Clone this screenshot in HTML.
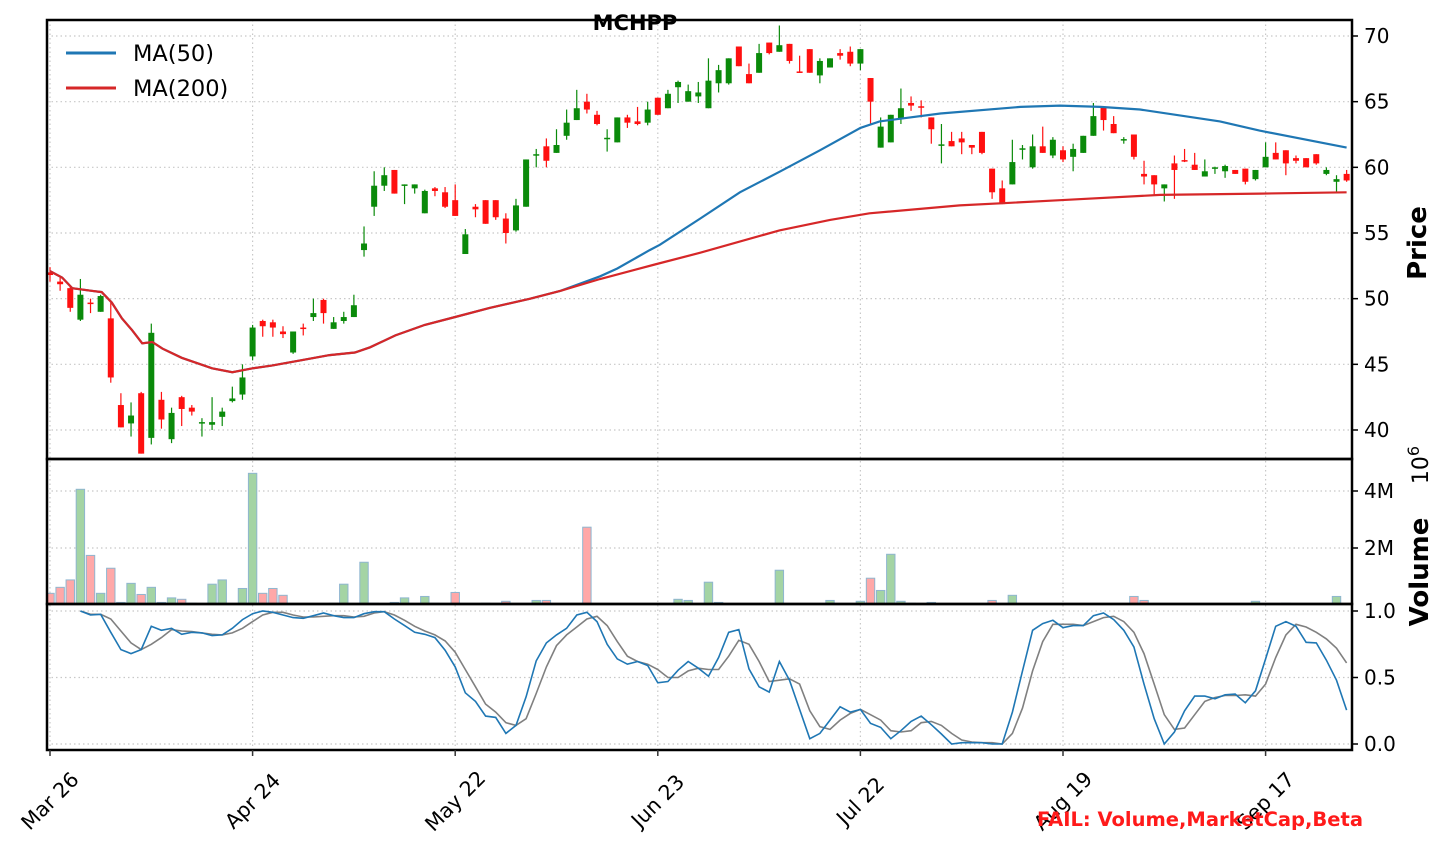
<!DOCTYPE html>
<html><head><meta charset="utf-8"><style>
html,body{margin:0;padding:0;background:#fff;}
svg{display:block;font-family:"DejaVu Sans","Liberation Sans",sans-serif;}
</style></head><body>
<svg id="chart" width="1451" height="855" viewBox="0 0 1451 855" xmlns="http://www.w3.org/2000/svg">
<defs>
<clipPath id="cp-price"><rect x="47" y="20" width="1305" height="439"/></clipPath>
<clipPath id="cp-vol"><rect x="47" y="459" width="1305" height="145"/></clipPath>
<clipPath id="cp-osc"><rect x="47" y="604" width="1305" height="146"/></clipPath>
</defs>
<g id="grid"></g>
<g id="vol" clip-path="url(#cp-vol)"></g>
<g id="candles" clip-path="url(#cp-price)"></g>
<g id="ma" clip-path="url(#cp-price)"></g>
<g id="osc" clip-path="url(#cp-osc)"></g>
<g id="axes"></g>
<text x="635" y="30" text-anchor="middle" font-size="21" font-weight="bold">MCHPP</text>
<g>
<line x1="66" y1="53" x2="116" y2="53" stroke="#1f77b4" stroke-width="3"/>
<text x="133" y="61" font-size="22.5">MA(50)</text>
<line x1="66" y1="88" x2="116" y2="88" stroke="#d62728" stroke-width="3"/>
<text x="133" y="96" font-size="22.5">MA(200)</text>
</g>
<text transform="translate(1426,243) rotate(-90)" text-anchor="middle" font-size="26" font-weight="bold">Price</text>
<text transform="translate(1428,572) rotate(-90)" text-anchor="middle" font-size="26" font-weight="bold">Volume</text>
<text transform="translate(1428,465) rotate(-90)" text-anchor="middle" font-size="22">10<tspan dy="-9" font-size="16">6</tspan></text>
<text x="1363" y="826" text-anchor="end" font-size="19.5" font-weight="bold" fill="#ff1a1a">FAIL: Volume,MarketCap,Beta</text>
</svg>
<script>
const opens=[52.0,51.3,50.8,48.4,49.7,49.0,48.5,41.9,40.5,42.8,39.4,42.3,39.3,42.5,41.7,40.5,40.4,41.0,42.2,42.7,45.6,48.3,48.2,47.5,45.9,47.8,48.6,49.9,47.7,48.3,48.6,53.7,57.0,58.6,59.8,58.65,58.4,56.5,58.4,58.1,57.5,53.4,57.0,57.5,57.5,56.1,55.2,57.0,60.9,61.6,61.1,62.4,63.6,65.0,64.0,62.15,61.9,63.8,63.5,63.4,65.3,64.5,66.1,65.0,65.4,64.5,66.4,66.4,69.2,67.1,67.2,69.5,68.8,69.4,67.3,69.0,67.0,67.6,68.7,68.8,67.9,66.8,61.5,61.9,63.7,64.9,64.65,63.8,61.65,62.0,62.2,61.7,62.7,59.9,58.4,58.7,61.35,60.0,61.6,60.9,61.3,60.8,61.1,62.4,64.6,63.3,62.05,62.5,59.5,59.4,58.4,60.3,60.55,60.2,59.3,59.9,59.7,59.8,59.9,59.1,60.0,61.1,61.3,60.7,60.7,61.0,59.5,58.9,59.5];
const highs=[52.4,51.6,50.9,51.5,50.0,50.3,49.7,42.8,42.1,42.9,48.1,42.9,41.7,42.6,41.9,40.9,42.5,41.7,43.3,45.0,48.0,48.4,48.4,47.9,47.5,48.1,50.0,50.0,48.6,49.0,50.3,55.5,59.7,60.0,59.8,58.7,58.7,58.3,58.5,58.5,58.7,55.3,57.2,57.5,57.5,56.5,57.6,60.6,61.4,62.2,62.9,64.4,65.9,65.6,64.3,62.9,63.8,64.0,64.6,65.0,65.3,65.9,66.6,66.3,66.5,68.3,67.8,68.3,69.2,67.9,69.4,69.5,70.8,69.4,68.5,69.0,68.3,68.3,69.0,69.2,69.0,66.8,63.8,64.0,66.0,65.4,65.1,63.8,63.3,62.7,62.7,61.7,62.7,59.9,59.0,62.1,61.7,62.5,63.1,62.3,61.6,61.8,62.4,64.9,64.6,63.9,62.3,62.5,60.5,59.4,58.7,60.9,61.4,61.1,60.6,60.05,60.2,59.8,59.9,59.8,61.9,61.9,61.3,60.9,60.7,61.0,60.0,59.4,59.8];
const lows=[51.3,50.6,49.0,48.3,48.9,49.0,43.6,40.2,39.5,38.2,38.9,40.1,39.0,40.3,41.1,39.5,40.0,40.3,42.1,42.3,45.3,47.1,47.1,47.0,45.8,47.2,48.3,48.1,47.7,48.1,48.6,53.2,56.3,58.2,58.0,57.2,58.0,56.5,57.8,56.9,56.3,53.4,56.2,55.7,56.0,54.2,55.1,57.0,60.0,60.0,61.1,62.1,63.6,64.1,63.2,61.2,61.9,63.0,63.2,63.2,64.0,64.5,64.9,65.0,64.9,64.5,65.7,66.3,67.7,66.4,67.2,68.6,68.8,67.9,67.2,67.2,66.4,67.6,68.2,67.7,67.4,63.3,61.5,61.9,63.3,64.3,63.8,61.8,60.3,61.6,61.0,61.0,61.0,57.6,57.2,58.7,60.6,59.9,61.1,60.7,60.4,59.7,61.1,62.4,62.8,62.6,61.8,60.6,58.7,57.9,57.4,57.6,60.4,59.8,59.3,59.5,59.2,59.5,58.7,59.0,60.0,60.6,59.4,60.3,60.0,60.2,59.4,58.1,58.9];
const closes=[51.8,51.1,49.3,50.3,49.6,50.2,44.0,40.2,41.1,38.2,47.4,40.8,41.3,41.6,41.4,40.6,40.6,41.4,42.4,44.0,47.8,47.9,47.8,47.3,47.5,47.7,48.9,48.9,48.2,48.6,49.5,54.2,58.6,59.4,58.0,58.7,58.7,58.2,58.2,57.0,56.3,54.9,56.8,55.7,56.2,55.0,57.1,60.6,61.0,60.5,61.7,63.4,64.5,64.4,63.3,62.25,63.8,63.4,63.3,64.4,64.0,65.6,66.5,65.8,65.7,66.6,67.4,68.3,67.7,66.4,68.7,68.7,69.3,68.1,67.2,67.2,68.1,68.3,68.5,67.9,69.0,65.0,63.1,64.0,64.5,64.7,64.55,62.9,61.75,61.6,61.9,61.5,61.1,58.1,57.2,60.4,61.45,61.6,61.1,62.1,60.6,61.4,62.4,63.9,63.6,62.6,62.15,60.8,59.3,58.7,58.7,59.8,60.45,59.8,59.7,60.0,60.1,59.5,58.9,59.8,60.8,60.6,60.3,60.5,60.0,60.3,59.8,59.1,59.0];
const volumesM=[0.41,0.62,0.88,4.06,1.74,0.41,1.29,0.09,0.76,0.37,0.62,0.09,0.25,0.2,0.06,0,0.73,0.88,0.02,0.58,4.62,0.41,0.58,0.34,0.02,0,0.02,0,0.06,0.73,0.02,1.5,0.06,0.02,0.09,0.25,0.02,0.3,0.06,0,0.44,0.02,0.02,0.06,0,0.13,0,0,0.16,0.16,0,0.02,0.02,2.73,0,0.02,0,0.02,0,0,0.02,0,0.2,0.16,0,0.8,0.09,0,0.02,0,0.02,0.02,1.22,0,0,0,0,0.16,0,0.02,0.13,0.94,0.51,1.78,0.13,0.06,0,0.09,0,0.02,0,0,0,0.16,0,0.34,0.02,0,0,0,0,0,0,0.02,0,0,0,0.3,0.16,0,0,0.02,0,0,0,0.02,0,0,0.02,0.13,0.02,0,0.06,0,0,0,0,0.3,0];
const ma200Idx=[0,1.2,2.2,4.1,5.1,6.1,7.1,8.1,9.1,10.1,11.1,13.0,16.0,18.0,20.0,21.9,24.7,27.6,30.1,31.6,34.1,37.0,40.0,43.4,47.4,50.4,54.3,59.7,64.2,72.0,77.0,80.9,89.8,94.8,99.7,109.6,119.5,128];
const ma200Val=[52.1,51.6,50.8,50.6,50.5,49.7,48.5,47.6,46.6,46.7,46.2,45.5,44.7,44.4,44.7,44.9,45.3,45.7,45.9,46.3,47.2,48.0,48.6,49.3,50.0,50.6,51.5,52.6,53.5,55.2,56.0,56.5,57.1,57.3,57.5,57.9,58.0,58.1];
const ma50Idx=[0,1.2,2.2,4.1,5.1,6.1,7.1,8.1,9.1,10.1,11.1,13.0,16.0,18.0,20.0,21.9,24.7,27.6,30.1,31.6,34.1,37.0,40.0,43.4,47.4,50.4,54.3,56.0,59.2,60.2,64.2,68.1,72.1,76.0,80.0,81.9,87.9,95.8,99.7,103.7,107.6,115.5,119.4,128];
const ma50Val=[52.1,51.6,50.8,50.6,50.5,49.7,48.5,47.6,46.6,46.7,46.2,45.5,44.7,44.4,44.7,44.9,45.3,45.7,45.9,46.3,47.2,48.0,48.6,49.3,50.0,50.6,51.7,52.3,53.7,54.1,56.1,58.1,59.7,61.3,63.0,63.5,64.1,64.6,64.7,64.6,64.4,63.5,62.8,61.5];
const oscStart=3;
const kValues=[1.0,0.97,0.975,0.84,0.71,0.68,0.71,0.885,0.855,0.87,0.825,0.84,0.835,0.815,0.82,0.87,0.935,0.98,1.0,0.99,0.97,0.95,0.945,0.965,0.985,0.965,0.95,0.95,0.98,0.995,0.995,0.94,0.89,0.84,0.825,0.8,0.705,0.58,0.385,0.32,0.21,0.2,0.08,0.14,0.355,0.625,0.76,0.82,0.87,0.97,0.99,0.92,0.75,0.64,0.6,0.62,0.59,0.46,0.47,0.555,0.62,0.57,0.51,0.65,0.84,0.86,0.565,0.43,0.39,0.62,0.48,0.26,0.04,0.08,0.18,0.28,0.24,0.26,0.155,0.125,0.04,0.1,0.17,0.21,0.145,0.075,0,0.01,0.01,0.01,0,0,0.24,0.55,0.855,0.905,0.93,0.875,0.89,0.89,0.965,0.985,0.935,0.855,0.73,0.45,0.19,0,0.09,0.25,0.36,0.36,0.34,0.37,0.375,0.31,0.4,0.64,0.885,0.92,0.885,0.765,0.76,0.63,0.48,0.255];
const dValues=[1.0,0.975,0.975,0.94,0.85,0.76,0.71,0.75,0.8,0.86,0.85,0.845,0.835,0.825,0.82,0.835,0.87,0.92,0.97,0.99,0.99,0.97,0.955,0.955,0.96,0.965,0.965,0.955,0.96,0.985,0.995,0.97,0.93,0.885,0.85,0.82,0.775,0.69,0.56,0.43,0.3,0.24,0.16,0.14,0.19,0.38,0.58,0.74,0.82,0.88,0.94,0.96,0.89,0.77,0.66,0.62,0.6,0.56,0.5,0.5,0.55,0.57,0.56,0.56,0.66,0.78,0.75,0.62,0.47,0.48,0.49,0.45,0.25,0.13,0.11,0.18,0.23,0.26,0.22,0.18,0.1,0.09,0.1,0.16,0.17,0.14,0.08,0.03,0.015,0.01,0.01,0,0.08,0.27,0.55,0.77,0.9,0.9,0.9,0.89,0.92,0.95,0.96,0.92,0.84,0.68,0.45,0.22,0.11,0.12,0.22,0.32,0.35,0.365,0.365,0.37,0.36,0.45,0.65,0.82,0.9,0.88,0.84,0.79,0.72,0.61];
const priceTicks=[40,45,50,55,60,65,70];
const volTicks=[2,4];
const volTickLabels=["2M","4M"];
const oscTicks=[0,0.5,1.0];
const oscTickLabels=["0.0","0.5","1.0"];
const xTickIdx=[0,20,40,60,80,100,120];
const xTickLabels=["Mar 26","Apr 24","May 22","Jun 23","Jul 22","Aug 19","Sep 17"];

const NS="http://www.w3.org/2000/svg";
const L=47,R=1352;
const xOf=i=>50+i*10.13;
const yP=p=>36+(70-p)*13.133;
const yV=v=>605-v*28.5;
const yO=v=>744-v*133;
function mk(tag,attrs,parent){const e=document.createElementNS(NS,tag);for(const k in attrs)e.setAttribute(k,attrs[k]);parent.appendChild(e);return e;}
const gGrid=document.getElementById('grid'),gVol=document.getElementById('vol'),gC=document.getElementById('candles'),gMA=document.getElementById('ma'),gOsc=document.getElementById('osc'),gAx=document.getElementById('axes');
const dash={stroke:'#c8c8c8','stroke-width':1.2,'stroke-dasharray':'1.5,3'};
priceTicks.forEach(p=>{const l=mk('line',Object.assign({x1:L,x2:R,y1:yP(p),y2:yP(p)},dash),gGrid);

});
volTicks.forEach(v=>{const l=mk('line',Object.assign({x1:L,x2:R,y1:yV(v),y2:yV(v)},dash),gGrid);

});
oscTicks.forEach(v=>{const l=mk('line',Object.assign({x1:L,x2:R,y1:yO(v),y2:yO(v)},dash),gGrid);

});
xTickIdx.forEach(i=>{const l=mk('line',Object.assign({x1:xOf(i),x2:xOf(i),y1:20,y2:750},dash),gGrid);

});
for(let i=0;i<opens.length;i++){
 const up=closes[i]>=opens[i];const col=up?'#0a8a0a':'#ff1010';const x=xOf(i);
 const w=mk('line',{x1:x,x2:x,y1:yP(highs[i]),y2:yP(lows[i]),stroke:col,'stroke-width':1.2},gC);
 
 
 const top=yP(Math.max(opens[i],closes[i])),bot=yP(Math.min(opens[i],closes[i]));
 const b=mk('rect',{x:x-3,y:top,width:6,height:Math.max(bot-top,1.5),fill:col},gC);
 
 
}
for(let i=0;i<volumesM.length;i++){
 if(volumesM[i]<=0)continue;
 const up=closes[i]>=opens[i];
 const r=mk('rect',{x:xOf(i)-4.2,y:yV(volumesM[i]),width:8.4,height:605-yV(volumesM[i]),fill:up?'#a4d4a4':'#ffa8a8',stroke:'#8fb6d0','stroke-width':1},gVol);
 
 
}
function path(idx,vals,yf){return idx.map((i,k)=>(k?'L':'M')+xOf(i).toFixed(1)+','+yf(vals[k]).toFixed(1)).join('');}
const m1=mk('path',{d:path(ma50Idx,ma50Val,yP),fill:'none',stroke:'#1f77b4','stroke-width':2.2},gMA);


const m2=mk('path',{d:path(ma200Idx,ma200Val,yP),fill:'none',stroke:'#d62728','stroke-width':2.2},gMA);


const oIdx=kValues.map((_,k)=>oscStart+k);
const dl=mk('path',{d:path(oIdx,dValues,yO),fill:'none',stroke:'#808080','stroke-width':1.6},gOsc);


const kl=mk('path',{d:path(oIdx,kValues,yO),fill:'none',stroke:'#1f77b4','stroke-width':1.6},gOsc);


[[20,459,'price-panel-frame'],[459,604,'volume-panel-frame'],[604,750,'oscillator-panel-frame']].forEach(f=>{
 const r=mk('rect',{x:L,y:f[0],width:R-L,height:f[1]-f[0],fill:'none',stroke:'#000','stroke-width':2.5},gAx);
 
 
});
function ytick(y,label,name){
 const t=mk('line',{x1:R,x2:R+6,y1:y,y2:y,stroke:'#000','stroke-width':1.5},gAx);
 
 
 const tx=mk('text',{x:R+12,y:y+7,'font-size':20},gAx);tx.textContent=label;
 
 
}
priceTicks.forEach(p=>ytick(yP(p),String(p),'price'));
volTicks.forEach((v,k)=>ytick(yV(v),volTickLabels[k],'volume'));
oscTicks.forEach((v,k)=>ytick(yO(v),oscTickLabels[k],'oscillator'));
xTickIdx.forEach((i,k)=>{
 const x=xOf(i);
 const t=mk('line',{x1:x,x2:x,y1:750,y2:756,stroke:'#333','stroke-width':1.5},gAx);
 
 
 const tx=mk('text',{x:0,y:0,'font-size':20.5,'text-anchor':'middle','dominant-baseline':'central',transform:`translate(${x},${801}) rotate(-45)`},gAx);
 tx.textContent=xTickLabels[k];
 
 
});
</script>
</body></html>
